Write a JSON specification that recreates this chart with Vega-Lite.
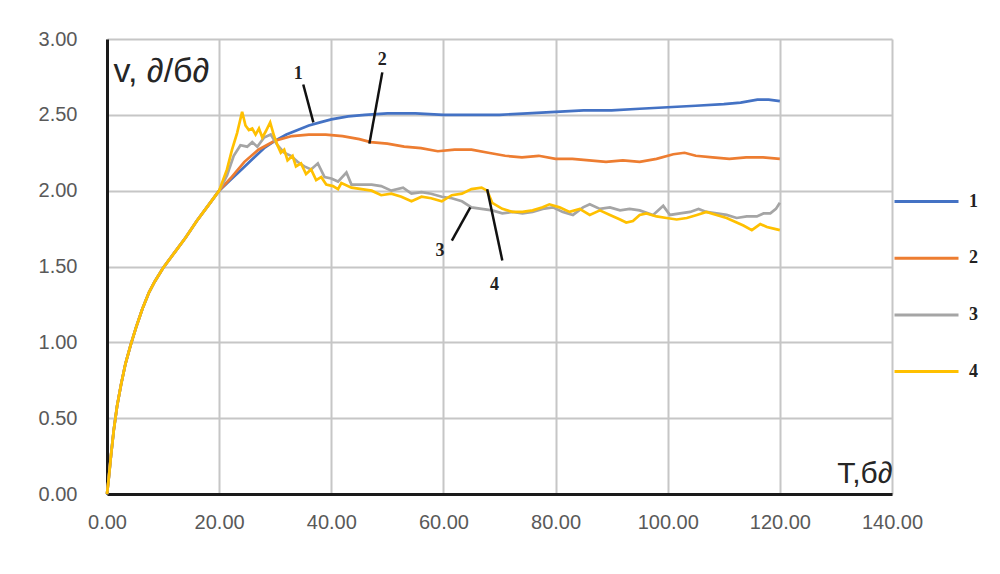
{
  "$schema": "https://vega.github.io/schema/vega-lite/v6.json",
  "autosize": {"type": "none"},
  "padding": {"left": 107, "top": 39, "right": 108, "bottom": 80},
  "width": 785,
  "height": 455,
  "background": "white",
  "config": {
    "view": {"stroke": null},
    "axis": {
      "labelFont": "Liberation Sans",
      "labelFontSize": 20,
      "labelColor": "#595959",
      "labelFlush": false,
      "labelOverlap": false,
      "gridColor": "#c6c6c6",
      "gridWidth": 2,
      "ticks": false,
      "domainColor": "#1a1a1a",
      "domainWidth": 3,
      "titleFont": "Liberation Sans",
      "titleFontSize": 30,
      "titleFontWeight": "normal",
      "titleColor": "#262626"
    }
  },
  "datasets": {
    "series": [
      {"s":"1","t":0,"v":0},{"s":"1","t":0.3,"v":0.1},{"s":"1","t":0.7,"v":0.25},{"s":"1","t":1.2,"v":0.42},{"s":"1","t":1.8,"v":0.58},{"s":"1","t":2.5,"v":0.72},{"s":"1","t":3.3,"v":0.86},{"s":"1","t":4.2,"v":0.98},{"s":"1","t":5.2,"v":1.1},{"s":"1","t":6.3,"v":1.22},{"s":"1","t":7.5,"v":1.33},{"s":"1","t":8.5,"v":1.4},{"s":"1","t":10,"v":1.49},{"s":"1","t":12,"v":1.59},{"s":"1","t":14,"v":1.69},{"s":"1","t":16,"v":1.8},{"s":"1","t":18,"v":1.9},{"s":"1","t":20,"v":2.0},
      {"s":"1","t":22,"v":2.07},{"s":"1","t":24,"v":2.14},{"s":"1","t":26,"v":2.21},{"s":"1","t":28,"v":2.28},{"s":"1","t":30,"v":2.33},{"s":"1","t":32,"v":2.37},{"s":"1","t":34,"v":2.4},{"s":"1","t":36,"v":2.43},{"s":"1","t":38,"v":2.45},{"s":"1","t":40,"v":2.47},{"s":"1","t":43,"v":2.49},{"s":"1","t":46,"v":2.5},{"s":"1","t":50,"v":2.51},{"s":"1","t":55,"v":2.51},{"s":"1","t":60,"v":2.5},{"s":"1","t":65,"v":2.5},{"s":"1","t":70,"v":2.5},{"s":"1","t":75,"v":2.51},{"s":"1","t":80,"v":2.52},{"s":"1","t":85,"v":2.53},{"s":"1","t":90,"v":2.53},{"s":"1","t":95,"v":2.54},{"s":"1","t":100,"v":2.55},{"s":"1","t":105,"v":2.56},{"s":"1","t":110,"v":2.57},{"s":"1","t":113,"v":2.58},{"s":"1","t":116,"v":2.6},{"s":"1","t":118,"v":2.6},{"s":"1","t":120,"v":2.59},
      {"s":"2","t":0,"v":0},{"s":"2","t":0.3,"v":0.1},{"s":"2","t":0.7,"v":0.25},{"s":"2","t":1.2,"v":0.42},{"s":"2","t":1.8,"v":0.58},{"s":"2","t":2.5,"v":0.72},{"s":"2","t":3.3,"v":0.86},{"s":"2","t":4.2,"v":0.98},{"s":"2","t":5.2,"v":1.1},{"s":"2","t":6.3,"v":1.22},{"s":"2","t":7.5,"v":1.33},{"s":"2","t":8.5,"v":1.4},{"s":"2","t":10,"v":1.49},{"s":"2","t":12,"v":1.59},{"s":"2","t":14,"v":1.69},{"s":"2","t":16,"v":1.8},{"s":"2","t":18,"v":1.9},{"s":"2","t":20,"v":2.0},
      {"s":"2","t":22,"v":2.08},{"s":"2","t":24.5,"v":2.19},{"s":"2","t":27,"v":2.27},{"s":"2","t":30,"v":2.33},{"s":"2","t":33,"v":2.36},{"s":"2","t":36,"v":2.37},{"s":"2","t":39,"v":2.37},{"s":"2","t":42,"v":2.36},{"s":"2","t":45,"v":2.34},{"s":"2","t":47,"v":2.32},{"s":"2","t":50,"v":2.31},{"s":"2","t":53,"v":2.29},{"s":"2","t":56,"v":2.28},{"s":"2","t":59,"v":2.26},{"s":"2","t":62,"v":2.27},{"s":"2","t":65,"v":2.27},{"s":"2","t":68,"v":2.25},{"s":"2","t":71,"v":2.23},{"s":"2","t":74,"v":2.22},{"s":"2","t":77,"v":2.23},{"s":"2","t":80,"v":2.21},{"s":"2","t":83,"v":2.21},{"s":"2","t":86,"v":2.2},{"s":"2","t":89,"v":2.19},{"s":"2","t":92,"v":2.2},{"s":"2","t":95,"v":2.19},{"s":"2","t":98,"v":2.21},{"s":"2","t":101,"v":2.24},{"s":"2","t":103,"v":2.25},{"s":"2","t":105,"v":2.23},{"s":"2","t":108,"v":2.22},{"s":"2","t":111,"v":2.21},{"s":"2","t":114,"v":2.22},{"s":"2","t":117,"v":2.22},{"s":"2","t":120,"v":2.21},
      {"s":"3","t":0,"v":0},{"s":"3","t":0.3,"v":0.1},{"s":"3","t":0.7,"v":0.25},{"s":"3","t":1.2,"v":0.42},{"s":"3","t":1.8,"v":0.58},{"s":"3","t":2.5,"v":0.72},{"s":"3","t":3.3,"v":0.86},{"s":"3","t":4.2,"v":0.98},{"s":"3","t":5.2,"v":1.1},{"s":"3","t":6.3,"v":1.22},{"s":"3","t":7.5,"v":1.33},{"s":"3","t":8.5,"v":1.4},{"s":"3","t":10,"v":1.49},{"s":"3","t":12,"v":1.59},{"s":"3","t":14,"v":1.69},{"s":"3","t":16,"v":1.8},{"s":"3","t":18,"v":1.9},{"s":"3","t":20,"v":2.0},
      {"s":"3","t":21.4,"v":2.1},{"s":"3","t":22.6,"v":2.23},{"s":"3","t":23.8,"v":2.3},{"s":"3","t":25,"v":2.29},{"s":"3","t":25.9,"v":2.32},{"s":"3","t":26.8,"v":2.29},{"s":"3","t":28,"v":2.35},{"s":"3","t":29.2,"v":2.37},{"s":"3","t":30.4,"v":2.3},{"s":"3","t":31.6,"v":2.25},{"s":"3","t":32.8,"v":2.23},{"s":"3","t":34,"v":2.19},{"s":"3","t":35.2,"v":2.16},{"s":"3","t":36.4,"v":2.14},{"s":"3","t":37.6,"v":2.18},{"s":"3","t":38.8,"v":2.09},{"s":"3","t":40,"v":2.08},{"s":"3","t":41.2,"v":2.06},{"s":"3","t":42.7,"v":2.12},{"s":"3","t":43.6,"v":2.04},{"s":"3","t":45.4,"v":2.04},{"s":"3","t":47.2,"v":2.04},{"s":"3","t":48.9,"v":2.03},{"s":"3","t":50.7,"v":2.0},{"s":"3","t":52.8,"v":2.02},{"s":"3","t":54.3,"v":1.98},{"s":"3","t":56.1,"v":1.99},{"s":"3","t":57.8,"v":1.98},{"s":"3","t":59.7,"v":1.96},{"s":"3","t":61.5,"v":1.95},{"s":"3","t":63.3,"v":1.93},{"s":"3","t":65,"v":1.89},{"s":"3","t":66.8,"v":1.88},{"s":"3","t":68.7,"v":1.87},{"s":"3","t":70.5,"v":1.85},{"s":"3","t":72.3,"v":1.86},{"s":"3","t":74.1,"v":1.85},{"s":"3","t":75.9,"v":1.86},{"s":"3","t":77.7,"v":1.88},{"s":"3","t":79.5,"v":1.89},{"s":"3","t":81.3,"v":1.86},{"s":"3","t":83.1,"v":1.84},{"s":"3","t":84.9,"v":1.89},{"s":"3","t":86.1,"v":1.91},{"s":"3","t":87.9,"v":1.88},{"s":"3","t":89.7,"v":1.89},{"s":"3","t":91.5,"v":1.87},{"s":"3","t":93.2,"v":1.88},{"s":"3","t":95,"v":1.87},{"s":"3","t":97.4,"v":1.84},{"s":"3","t":99.2,"v":1.9},{"s":"3","t":100.4,"v":1.84},{"s":"3","t":102.2,"v":1.85},{"s":"3","t":104,"v":1.86},{"s":"3","t":105.5,"v":1.88},{"s":"3","t":106.9,"v":1.86},{"s":"3","t":108.7,"v":1.85},{"s":"3","t":110.5,"v":1.84},{"s":"3","t":112.3,"v":1.82},{"s":"3","t":114.1,"v":1.83},{"s":"3","t":115.9,"v":1.83},{"s":"3","t":117.1,"v":1.85},{"s":"3","t":118.3,"v":1.85},{"s":"3","t":119.3,"v":1.88},{"s":"3","t":120,"v":1.92},
      {"s":"4","t":0,"v":0},{"s":"4","t":0.3,"v":0.1},{"s":"4","t":0.7,"v":0.25},{"s":"4","t":1.2,"v":0.42},{"s":"4","t":1.8,"v":0.58},{"s":"4","t":2.5,"v":0.72},{"s":"4","t":3.3,"v":0.86},{"s":"4","t":4.2,"v":0.98},{"s":"4","t":5.2,"v":1.1},{"s":"4","t":6.3,"v":1.22},{"s":"4","t":7.5,"v":1.33},{"s":"4","t":8.5,"v":1.4},{"s":"4","t":10,"v":1.49},{"s":"4","t":12,"v":1.59},{"s":"4","t":14,"v":1.69},{"s":"4","t":16,"v":1.8},{"s":"4","t":18,"v":1.9},{"s":"4","t":20,"v":2.0},
      {"s":"4","t":21.4,"v":2.14},{"s":"4","t":22.3,"v":2.27},{"s":"4","t":23.2,"v":2.38},{"s":"4","t":24.1,"v":2.52},{"s":"4","t":24.7,"v":2.43},{"s":"4","t":25.3,"v":2.4},{"s":"4","t":25.9,"v":2.41},{"s":"4","t":26.5,"v":2.37},{"s":"4","t":27.1,"v":2.41},{"s":"4","t":27.7,"v":2.35},{"s":"4","t":28.3,"v":2.39},{"s":"4","t":29.1,"v":2.45},{"s":"4","t":29.8,"v":2.36},{"s":"4","t":30.4,"v":2.3},{"s":"4","t":31,"v":2.25},{"s":"4","t":31.6,"v":2.27},{"s":"4","t":32.2,"v":2.2},{"s":"4","t":33.1,"v":2.23},{"s":"4","t":33.7,"v":2.16},{"s":"4","t":34.6,"v":2.18},{"s":"4","t":35.5,"v":2.11},{"s":"4","t":36.4,"v":2.14},{"s":"4","t":37.3,"v":2.07},{"s":"4","t":38.2,"v":2.09},{"s":"4","t":39.1,"v":2.04},{"s":"4","t":40.3,"v":2.03},{"s":"4","t":41.2,"v":2.01},{"s":"4","t":41.8,"v":2.05},{"s":"4","t":43.6,"v":2.02},{"s":"4","t":45.4,"v":2.01},{"s":"4","t":47.2,"v":2.0},{"s":"4","t":48.9,"v":1.97},{"s":"4","t":50.7,"v":1.98},{"s":"4","t":52.5,"v":1.96},{"s":"4","t":54.3,"v":1.93},{"s":"4","t":56.1,"v":1.96},{"s":"4","t":57.8,"v":1.95},{"s":"4","t":59.7,"v":1.93},{"s":"4","t":61.5,"v":1.97},{"s":"4","t":63.3,"v":1.98},{"s":"4","t":65,"v":2.01},{"s":"4","t":66.8,"v":2.02},{"s":"4","t":67.8,"v":2.0},{"s":"4","t":68.7,"v":1.92},{"s":"4","t":70.5,"v":1.88},{"s":"4","t":72.3,"v":1.86},{"s":"4","t":74.1,"v":1.86},{"s":"4","t":75.9,"v":1.87},{"s":"4","t":77.7,"v":1.89},{"s":"4","t":78.9,"v":1.91},{"s":"4","t":80.7,"v":1.89},{"s":"4","t":82.5,"v":1.86},{"s":"4","t":84.3,"v":1.88},{"s":"4","t":86.1,"v":1.84},{"s":"4","t":87.9,"v":1.87},{"s":"4","t":89.7,"v":1.84},{"s":"4","t":91.5,"v":1.81},{"s":"4","t":92.6,"v":1.79},{"s":"4","t":93.8,"v":1.8},{"s":"4","t":95,"v":1.84},{"s":"4","t":96.2,"v":1.85},{"s":"4","t":98,"v":1.83},{"s":"4","t":99.8,"v":1.82},{"s":"4","t":101.6,"v":1.81},{"s":"4","t":103.4,"v":1.82},{"s":"4","t":105.2,"v":1.84},{"s":"4","t":106.9,"v":1.86},{"s":"4","t":108.7,"v":1.84},{"s":"4","t":110.5,"v":1.82},{"s":"4","t":111.7,"v":1.8},{"s":"4","t":113.5,"v":1.77},{"s":"4","t":115,"v":1.74},{"s":"4","t":116.5,"v":1.78},{"s":"4","t":117.7,"v":1.76},{"s":"4","t":118.9,"v":1.75},{"s":"4","t":120,"v":1.74}
    ],
    "leaders": [
      {"t":35.0,"v":2.70,"t2":36.8,"v2":2.45},
      {"t":49.1,"v":2.78,"t2":46.8,"v2":2.31},
      {"t":61.5,"v":1.67,"t2":64.8,"v2":1.89},
      {"t":67.8,"v":2.01,"t2":70.5,"v2":1.54}
    ],
    "labels": [
      {"t":34.1,"v":2.77,"label":"1"},
      {"t":49.1,"v":2.86,"label":"2"},
      {"t":59.4,"v":1.6,"label":"3"},
      {"t":69.1,"v":1.375,"label":"4"}
    ]
  },
  "layer": [
    {
      "data": {"name": "series"},
      "mark": {"type": "line", "strokeWidth": 2.7, "interpolate": "linear"},
      "encoding": {
        "x": {
          "field": "t", "type": "quantitative",
          "scale": {"domain": [0, 140], "nice": false, "zero": false},
          "axis": {
            "values": [0, 20, 40, 60, 80, 100, 120, 140],
            "format": ".2f",
            "labelPadding": 18,
            "title": "T,б∂",
            "titleAlign": "right",
            "titleAnchor": null,
            "titleX": 785,
            "titleY": -12,
            "titleBaseline": "alphabetic",
            "titleFontSize": 30
          }
        },
        "y": {
          "field": "v", "type": "quantitative",
          "scale": {"domain": [0, 3], "nice": false},
          "axis": {
            "values": [0, 0.5, 1, 1.5, 2, 2.5, 3],
            "format": ".2f",
            "labelPadding": 30,
            "title": "v, ∂/б∂",
            "titleAngle": 0,
            "titleAlign": "left",
            "titleAnchor": null,
            "titleX": 6,
            "titleY": 42,
            "titleBaseline": "alphabetic",
            "titleFontSize": 34
          }
        },
        "color": {
          "field": "s", "type": "nominal",
          "scale": {"domain": ["1", "2", "3", "4"], "range": ["#4472C4", "#ED7D31", "#A5A5A5", "#FFC000"]},
          "legend": {
            "orient": "none",
            "legendX": 802,
            "legendY": 145,
            "padding": 0,
            "title": null,
            "symbolType": "M-2,0L2,0",
            "symbolSize": 1024,
            "symbolStrokeWidth": 3,
            "labelFont": "Liberation Serif",
            "labelFontWeight": "bold",
            "labelFontSize": 18,
            "labelColor": "#222222",
            "labelOffset": 25,
            "rowPadding": 29.7
          }
        }
      }
    },
    {
      "data": {"name": "leaders"},
      "mark": {"type": "rule", "color": "#111111", "strokeWidth": 2.5},
      "encoding": {
        "x": {"field": "t", "type": "quantitative"},
        "y": {"field": "v", "type": "quantitative"},
        "x2": {"field": "t2"},
        "y2": {"field": "v2"}
      }
    },
    {
      "data": {"name": "labels"},
      "mark": {"type": "text", "font": "Liberation Serif", "fontWeight": "bold", "fontSize": 18, "color": "#222222", "baseline": "middle", "align": "center"},
      "encoding": {
        "x": {"field": "t", "type": "quantitative"},
        "y": {"field": "v", "type": "quantitative"},
        "text": {"field": "label"}
      }
    }
  ]
}
